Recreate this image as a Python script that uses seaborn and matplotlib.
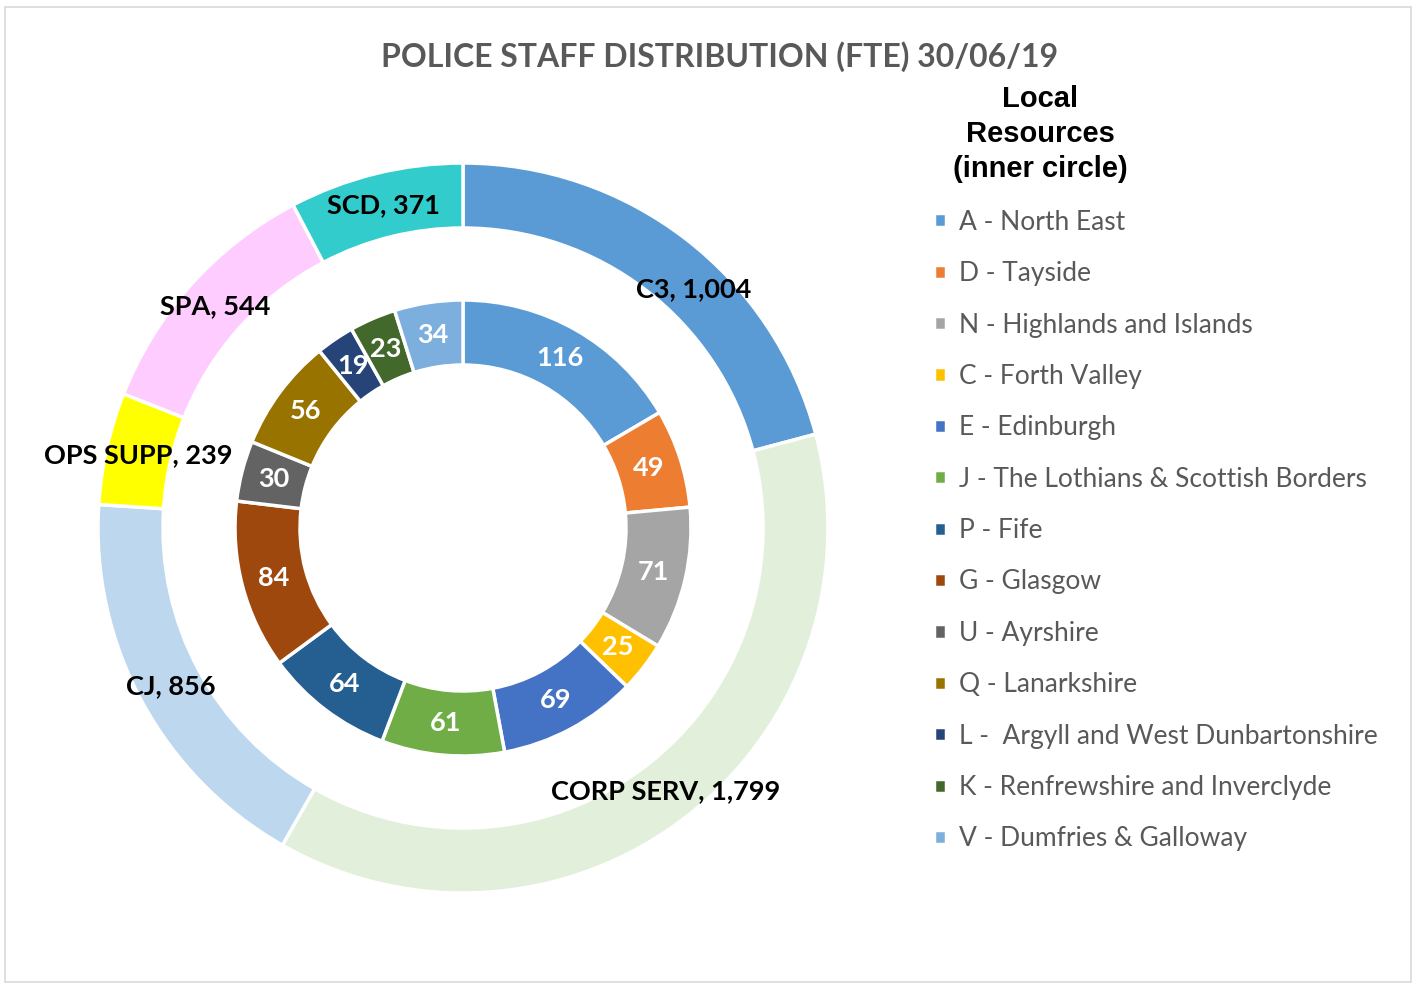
import numpy as np
import matplotlib
matplotlib.use("Agg")
import matplotlib.pyplot as plt
import seaborn as sns
from matplotlib.patches import Rectangle

sns.set_theme(style="white")
plt.rcParams['font.family'] = ['Lato', 'DejaVu Sans']

# outer ring: departments
dept_names = ['C3', 'CORP SERV', 'CJ', 'OPS SUPP', 'SPA', 'SCD']
dept_values = [1004, 1799, 856, 239, 544, 371]
dept_colors = ['#5B9BD5', '#E2EFDA', '#BDD7EE', '#FFFF00', '#FFCCFF', '#33CCCC']

# inner ring: local resources
local_names = ['A - North East', 'D - Tayside', 'N - Highlands and Islands',
               'C - Forth Valley', 'E - Edinburgh',
               'J - The Lothians & Scottish Borders', 'P - Fife', 'G - Glasgow',
               'U - Ayrshire', 'Q - Lanarkshire',
               'L -  Argyll and West Dunbartonshire',
               'K - Renfrewshire and Inverclyde', 'V - Dumfries & Galloway']
local_values = [116, 49, 71, 25, 69, 61, 64, 84, 30, 56, 19, 23, 34]
local_colors = ['#5B9BD5', '#ED7D31', '#A5A5A5', '#FFC000', '#4472C4', '#70AD47',
                '#255E91', '#9E480E', '#636363', '#997300', '#264478', '#43682B',
                '#7CAFDD']

W, H = 1419, 985
fig = plt.figure(figsize=(W / 100, H / 100), dpi=100)
fig.patches.append(Rectangle((5 / W, 3 / H), 1406 / W, 975 / H, transform=fig.transFigure,
                             fill=False, edgecolor='#D9D9D9', linewidth=1.2))

ax = fig.add_axes([83 / W, 77 / H, 760 / W, 760 / H])

R_OUT, R_IN, RING = 1.0, 228 / 365, 65 / 365

outer, _ = ax.pie(dept_values, radius=R_OUT, colors=dept_colors, startangle=90,
                  counterclock=False,
                  wedgeprops=dict(width=RING, edgecolor='white', linewidth=2.5))
inner, _ = ax.pie(local_values, radius=R_IN, colors=local_colors, startangle=90,
                  counterclock=False,
                  wedgeprops=dict(width=RING, edgecolor='white', linewidth=2.5))

lim = 380 / 365
ax.set_xlim(-lim, lim)
ax.set_ylim(-lim, lim)
ax.set_aspect('equal')
ax.axis('off')


def label_ring(wedges, texts, r, color, nudges=None):
    nudges = nudges or {}
    for i, (w, t) in enumerate(zip(wedges, texts)):
        ang = np.deg2rad((w.theta1 + w.theta2) / 2)
        ax.annotate(t, (r * np.cos(ang), r * np.sin(ang)),
                    xytext=nudges.get(i, (0, 0)), textcoords='offset points',
                    ha='center', va='center',
                    fontsize=19.5, fontweight='bold', color=color)


# the C3 label sits a little clockwise of its slice middle in the original
label_ring(outer, [f'{n}, {v:,}' for n, v in zip(dept_names, dept_values)],
           R_OUT - RING / 2, 'black', nudges={0: (20, -18)})
label_ring(inner, [str(v) for v in local_values], R_IN - RING / 2, 'white')

fig.text(720 / W, 1 - 57 / H, 'POLICE STAFF DISTRIBUTION (FTE) 30/06/19',
         ha='center', va='center', fontsize=23, fontweight='bold', color='#595959')

fig.text(1040 / W, 1 - 134 / H, 'Local\nResources\n(inner circle)',
         ha='center', va='center', multialignment='center', linespacing=1.3,
         family='Liberation Sans', fontsize=21, fontweight='bold', color='black')

leg = fig.legend(inner, local_names, loc='upper left',
                 bbox_to_anchor=(910 / W, 1 - 186 / H), frameon=False,
                 prop=dict(family='Lato', size=19),
                 handlelength=0.45, handleheight=0.45, handletextpad=0.5,
                 labelspacing=1.0)
for t in leg.get_texts():
    t.set_color('#595959')

fig.savefig('out.png', dpi=100)
